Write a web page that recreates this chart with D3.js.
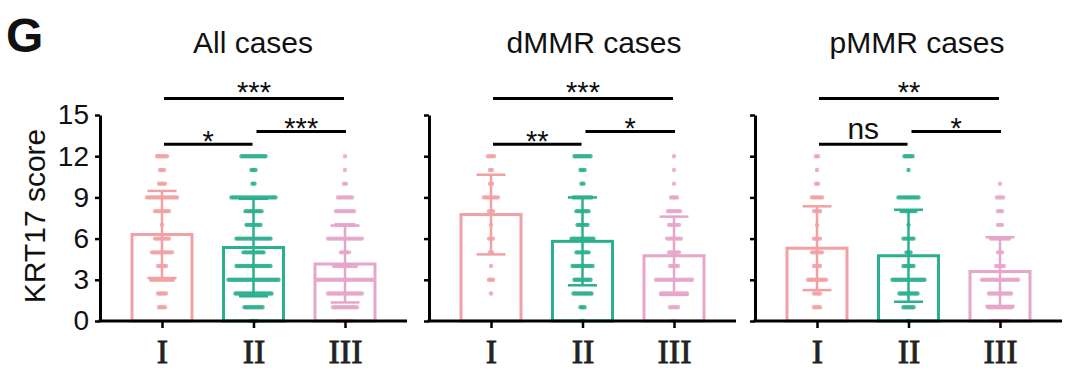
<!doctype html>
<html>
	<head>
		<script type="text/javascript" src="https://cdn.jsdelivr.net/npm/d3@7/dist/d3.min.js"></script>
		<style>
			body { margin: 0; background: #fff; }
			svg text { fill: #111; }
		</style>
	</head>
	<body>
		<div id="container"></div>
		<script>
			// stage groups and panels
			var groups = ["I", "II", "III"];
			var panelTitles = ["All cases", "dMMR cases", "pMMR cases"];
			var yTicks = [0, 3, 6, 9, 12, 15];
			var scores = [0, 1, 2, 3, 4, 5, 6, 7, 8, 9, 10, 11, 12];

			// mean and SD per panel, per group (I, II, III)
			var means = [[6.3, 5.35, 4.15], [7.75, 5.8, 4.75], [5.3, 4.75, 3.6]];
			var sds = [[3.17, 3.55, 2.8], [2.9, 3.2, 2.85], [3.05, 3.35, 2.5]];

			// number of cases at each score 0..12
			var countsAll = [
				[0, 4, 5, 12, 5, 11, 8, 1, 8, 16, 4, 3, 6],
				[4, 10, 19, 26, 18, 11, 18, 8, 9, 23, 2, 3, 13],
				[8, 13, 18, 29, 12, 5, 18, 10, 10, 8, 2, 1, 1]
			];
			var countsDMMR = [
				[0, 0, 1, 3, 1, 2, 3, 1, 3, 8, 2, 2, 4],
				[2, 3, 10, 9, 11, 7, 12, 6, 7, 10, 2, 3, 9],
				[3, 5, 14, 19, 5, 6, 8, 6, 7, 4, 1, 1, 1]
			];
			var countsPMMR = [
				[0, 4, 4, 10, 4, 6, 4, 1, 4, 6, 2, 1, 2],
				[2, 6, 10, 17, 6, 3, 6, 1, 8, 11, 0, 1, 5],
				[9, 13, 12, 19, 5, 3, 10, 3, 3, 4, 1, 0, 0]
			];
			var counts = [countsAll, countsDMMR, countsPMMR];

			// significance: [I vs III, I vs II, II vs III]
			var sigLabels = [["***", "*", "***"], ["***", "**", "*"], ["**", "ns", "*"]];
			var sigPairs = [["I", "III"], ["I", "II"], ["II", "III"]];
			var sigHeights = [16.2, 12.87, 13.8];

			var colors = ["#F1A1A4", "#2BB08F", "#E6A6CA"];

			var panelLeft = [100, 429, 755];
			var titleX = [253, 594, 917];
			var sans = "'Liberation Sans', Arial, sans-serif";
			var serif = "'Liberation Serif', 'Times New Roman', serif";

			var svg = d3.select("#container")
						.append("svg")
						.attr("width", 1072)
						.attr("height", 384);

			var y = d3.scaleLinear().domain([0, 15]).range([321, 115]);

			svg.append("text")
				.attr("x", 6)
				.attr("y", 52)
				.style("font-family", sans)
				.style("font-size", "48px")
				.style("font-weight", "bold")
				.text("G");

			svg.append("text")
				.attr("transform", "translate(45,216) rotate(-90)")
				.attr("text-anchor", "middle")
				.style("font-family", sans)
				.style("font-size", "30px")
				.text("KRT17 score");

			for (var p = 0; p < 3; p++)
			{
				var left = panelLeft[p];
				var x = d3.scalePoint().domain(groups).range([left + 62, left + 245]);
				var g = svg.append("g");

				// dots, spread horizontally in rows
				var dots = [];
				groups.forEach(function(grp, gi) {
					scores.forEach(function(s) {
						var n = counts[p][gi][s];
						for (var i = 0; i < n; i++)
						{
							dots.push({ g: gi, cx: x(grp) + (i - (n - 1) / 2) * 2, score: s });
						}
					});
				});
				g.selectAll("circle.dot")
					.data(dots)
					.enter()
					.append("circle")
					.attr("class", "dot")
					.attr("cx", function(d) { return d.cx; })
					.attr("cy", function(d) { return y(d.score); })
					.attr("r", 2.2)
					.attr("fill", function(d) { return colors[d.g]; })
					.attr("fill-opacity", 0.85);

				// bars
				g.selectAll("rect.bar")
					.data(groups)
					.enter()
					.append("rect")
					.attr("class", "bar")
					.attr("x", function(d) { return x(d) - 30; })
					.attr("y", function(d, i) { return y(means[p][i]); })
					.attr("width", 60)
					.attr("height", function(d, i) { return y(0) - y(means[p][i]); })
					.attr("fill", "none")
					.attr("stroke", function(d, i) { return colors[i]; })
					.attr("stroke-width", 3);

				// error bars
				groups.forEach(function(grp, gi) {
					var lo = means[p][gi] - sds[p][gi];
					var hi = means[p][gi] + sds[p][gi];
					var eb = g.append("g")
						.attr("stroke", colors[gi])
						.attr("stroke-width", 2.5);
					eb.append("line")
						.attr("x1", x(grp)).attr("x2", x(grp))
						.attr("y1", y(lo)).attr("y2", y(hi));
					[lo, hi].forEach(function(v) {
						eb.append("line")
							.attr("x1", x(grp) - 14.5).attr("x2", x(grp) + 14.5)
							.attr("y1", y(v)).attr("y2", y(v));
					});
				});

				// y axis
				var yAxis = d3.axisLeft(y)
					.tickValues(yTicks)
					.tickSize(5)
					.tickSizeOuter(0)
					.tickPadding(6)
					.tickFormat(p == 0 ? d3.format("d") : "");
				var ya = g.append("g")
					.attr("transform", "translate(" + left + ",0)")
					.call(yAxis);
				ya.select(".domain").attr("stroke", "#000").attr("stroke-width", 3);
				ya.selectAll(".tick line").attr("stroke", "#000").attr("stroke-width", 2.5);
				ya.selectAll(".tick text")
					.style("font-family", sans)
					.style("font-size", "28px")
					.style("fill", "#111");

				// x axis
				g.append("line")
					.attr("x1", left - 1.5).attr("x2", left + 307)
					.attr("y1", y(0)).attr("y2", y(0))
					.attr("stroke", "#000")
					.attr("stroke-width", 3);
				var xa = g.append("g")
					.attr("transform", "translate(0," + y(0) + ")")
					.call(d3.axisBottom(x).tickSize(7).tickPadding(11));
				xa.select(".domain").remove();
				xa.selectAll(".tick line").attr("stroke", "#000").attr("stroke-width", 2.5);
				xa.selectAll(".tick text")
					.style("font-family", serif)
					.style("font-size", "34px")
					.style("fill", "#222")
					.style("stroke", "#222")
					.style("stroke-width", "0.8px");

				// title
				g.append("text")
					.attr("x", titleX[p])
					.attr("y", 53)
					.attr("text-anchor", "middle")
					.style("font-family", sans)
					.style("font-size", "30px")
					.text(panelTitles[p]);

				// significance brackets
				sigPairs.forEach(function(pair, k) {
					var x1 = x(pair[0]) + 2;
					var x2 = x(pair[1]) - 1;
					if (k == 2) { x1 = x(pair[0]) + 3; x2 = x(pair[1]) + 1; }
					var ly = y(sigHeights[k]);
					g.append("line")
						.attr("x1", x1).attr("x2", x2)
						.attr("y1", ly).attr("y2", ly)
						.attr("stroke", "#000")
						.attr("stroke-width", 3);
					var lab = sigLabels[p][k];
					var t = g.append("text")
						.attr("x", (x1 + x2) / 2)
						.attr("text-anchor", "middle")
						.style("font-family", sans)
						.text(lab);
					if (lab == "ns")
					{
						t.attr("y", ly - 5).style("font-size", "30px");
					}
					else
					{
						t.attr("y", ly + (k == 0 ? 3 : 7)).style("font-size", "29px");
					}
				});
			}
		</script>
	</body>
</html>
